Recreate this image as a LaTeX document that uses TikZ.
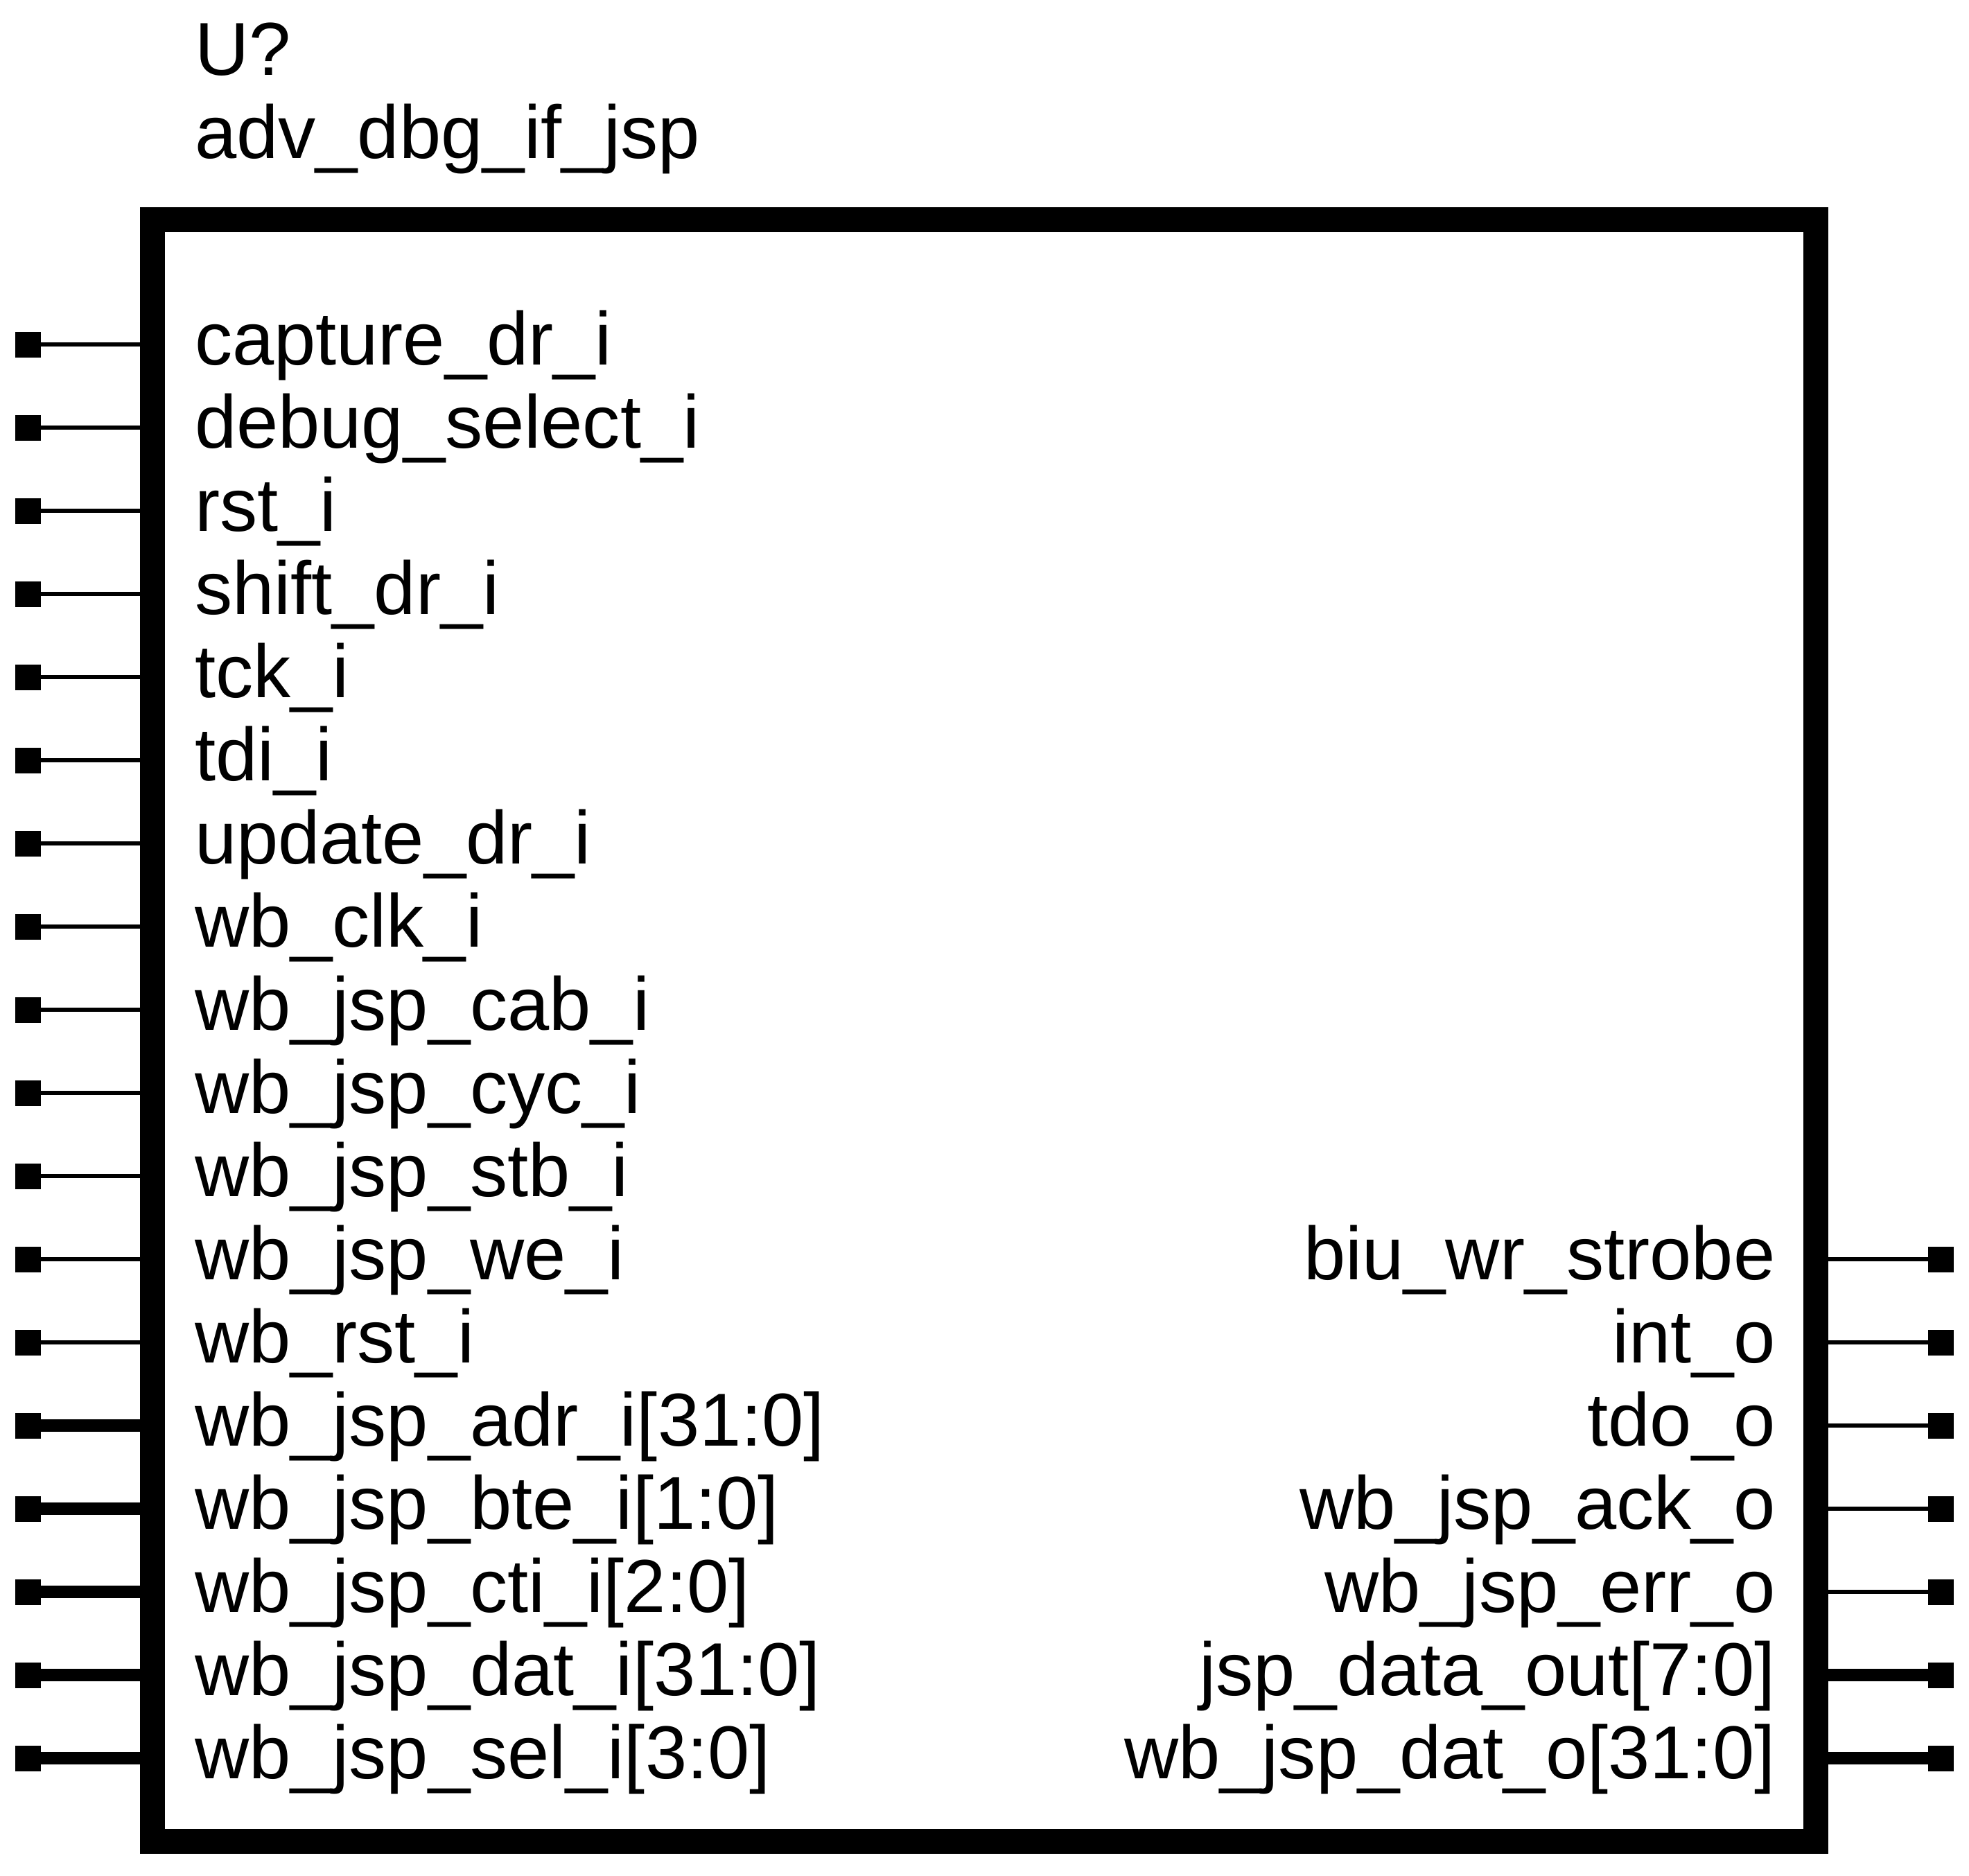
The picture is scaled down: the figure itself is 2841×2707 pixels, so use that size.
\documentclass[tikz,border=0pt]{standalone}
\usepackage{fontspec}
\setmainfont{Liberation Sans}
\tikzset{
  sym/.style={draw=black,line width=36pt,fill=white,rectangle,inner sep=0pt,outer sep=0pt,minimum width=2400pt,minimum height=2340pt},
  pinbox/.style={fill=black,rectangle,inner sep=0pt,outer sep=0pt,minimum size=37pt},
  thinwire/.style={line width=6pt},
  thickwire/.style={line width=18pt},
  lbl/.style={inner sep=0pt,outer sep=0pt,font=\fontsize{108.3}{120}\selectfont},
  leftlbl/.style={lbl,anchor=base west},
  rightlbl/.style={lbl,anchor=base east}
}
\begin{document}
\begin{tikzpicture}[x=1pt,y=-1pt]
\useasboundingbox (0,0) rectangle (2841,2707);
\node[sym] (box) at (1420,1487) {};
\node[leftlbl] (ref) at (281,108) {U?};
\node[leftlbl] (name) at (281,228) {adv\_dbg\_if\_jsp};
% left pins
\foreach \k/\t/\w in {
  0/capture\_dr\_i/thinwire,
  1/debug\_select\_i/thinwire,
  2/rst\_i/thinwire,
  3/shift\_dr\_i/thinwire,
  4/tck\_i/thinwire,
  5/tdi\_i/thinwire,
  6/update\_dr\_i/thinwire,
  7/wb\_clk\_i/thinwire,
  8/wb\_jsp\_cab\_i/thinwire,
  9/wb\_jsp\_cyc\_i/thinwire,
  10/wb\_jsp\_stb\_i/thinwire,
  11/wb\_jsp\_we\_i/thinwire,
  12/wb\_rst\_i/thinwire,
  13/wb\_jsp\_adr\_i[31:0]/thickwire,
  14/wb\_jsp\_bte\_i[1:0]/thickwire,
  15/wb\_jsp\_cti\_i[2:0]/thickwire,
  16/wb\_jsp\_dat\_i[31:0]/thickwire,
  17/wb\_jsp\_sel\_i[3:0]/thickwire}{
  \pgfmathsetmacro{\yy}{497+120*\k}
  \node[pinbox] (lp\k) at (40.5,\yy) {};
  \draw[\w] (lp\k.center) -- (lp\k.center -| box.west);
  \node[leftlbl] (lt\k) at (281,\yy+29) {\t};
}
% right pins
\foreach \k/\t/\w in {
  11/biu\_wr\_strobe/thinwire,
  12/int\_o/thinwire,
  13/tdo\_o/thinwire,
  14/wb\_jsp\_ack\_o/thinwire,
  15/wb\_jsp\_err\_o/thinwire,
  16/jsp\_data\_out[7:0]/thickwire,
  17/wb\_jsp\_dat\_o[31:0]/thickwire}{
  \pgfmathsetmacro{\yy}{497+120*\k}
  \node[pinbox] (rp\k) at (2800.5,\yy) {};
  \draw[\w] (rp\k.center) -- (rp\k.center -| box.east);
  \node[rightlbl] (rt\k) at (2561.5,\yy+29) {\t};
}
\end{tikzpicture}
\end{document}
